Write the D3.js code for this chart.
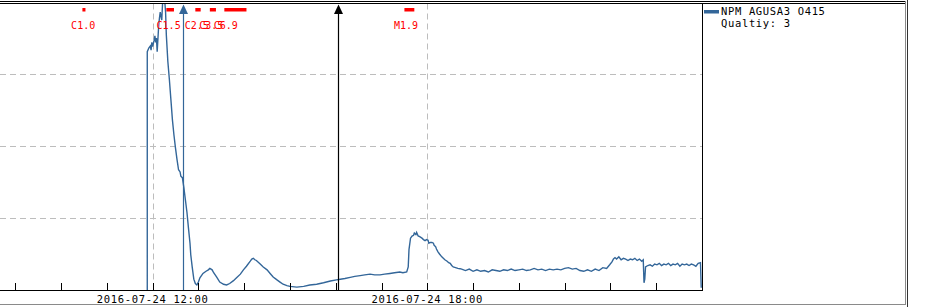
<!DOCTYPE html>
<meta charset="utf-8">
<style>
body { margin:0; background:#fff; }
svg { display:block; }
text { font-family:"DejaVu Sans Mono", monospace; }
</style>
<body>
<div id="chart"></div>
<script src="https://d3js.org/d3.v7.min.js"></script>
<script>
// NPM -> AGUSA3 VLF amplitude, 2016-07-24 (UT)
var day = "2016-07-24 ";

var seriesTimes = [
  "11:53","11:53","11:55","11:57","11:58","11:59","12:00","12:02","12:03","12:04",
  "12:05","12:06","12:08","12:09","12:10","12:12","12:13","12:14","12:16","12:17",
  "12:18","12:20","12:22","12:24","12:26","12:28","12:30","12:32","12:34","12:36",
  "12:37","12:39","12:41","12:43","12:45","12:47","12:49","12:50","12:52","12:54",
  "12:56","12:58","13:00","13:02","13:06","13:10","13:13","13:15","13:18","13:20",
  "13:24","13:28","13:33","13:37","13:41","13:46","13:50","13:55","13:59","14:03",
  "14:08","14:10","14:12","14:14","14:16","14:21","14:25","14:30","14:34","14:38",
  "14:43","14:47","14:51","14:56","15:00","15:09","15:18","15:26","15:35","15:44",
  "15:53","16:01","16:06","16:12","16:19","16:25","16:32","16:38","16:45","16:51",
  "16:58","17:04","17:11","17:17","17:24","17:28","17:33","17:35","17:36","17:38",
  "17:40","17:42","17:43","17:45","17:46","17:48","17:50","17:53","17:55","17:57",
  "17:59","18:01","18:02","18:04","18:06","18:08","18:09","18:11","18:12","18:14",
  "18:16","18:19","18:21","18:23","18:26","18:28","18:30","18:32","18:34","18:37",
  "18:40","18:43","18:45","18:50","18:55","19:00","19:05","19:10","19:15","19:20",
  "19:25","19:30","19:35","19:40","19:45","19:50","19:55","20:00","20:05","20:10",
  "20:15","20:20","20:25","20:30","20:35","20:40","20:45","20:50","20:55","21:00",
  "21:05","21:10","21:15","21:20","21:25","21:30","21:35","21:40","21:45","21:50",
  "21:55","21:59","22:02","22:04","22:06","22:08","22:11","22:14","22:17","22:20",
  "22:23","22:26","22:29","22:32","22:35","22:38","22:41","22:43","22:44","22:45",
  "22:46","22:49","22:52","22:55","22:58","23:01","23:04","23:07","23:10","23:13",
  "23:16","23:19","23:22","23:25","23:28","23:31","23:34","23:37","23:40","23:43",
  "23:46","23:49","23:52","23:55","23:58","23:59"
];
var seriesValues = [
  0, 33.1, 33.6, 33.9, 33.3, 34.4, 33.8, 34.7, 35.3, 34.4,
  35.0, 33.1, 36.8, 37.8, 38.6, 37.5, 39.7, 41.0, 40.0, 38.6,
  35.4, 31.7, 29.2, 26.4, 23.6, 21.5, 19.7, 18.1, 16.7, 16.4,
  15.8, 15.6, 14.2, 12.5, 10.8, 8.6, 6.5, 4.9, 3.1, 1.5,
  0.9, 0.7, 1.1, 1.7, 2.3, 2.6, 2.8, 3.0, 2.8, 2.4,
  1.8, 1.1, 0.8, 0.7, 0.9, 1.3, 1.7, 2.2, 2.8, 3.3,
  4.0, 4.3, 4.4, 4.2, 4.1, 3.6, 3.2, 2.8, 2.3, 1.8,
  1.4, 1.1, 0.8, 0.6, 0.5, 0.4, 0.5, 0.7, 0.8, 1.0,
  1.25, 1.4, 1.5, 1.6, 1.76, 1.9, 2.0, 2.1, 2.2, 2.1,
  2.1, 2.2, 2.3, 2.4, 2.5, 2.4, 2.5, 3.2, 5.6, 7.2,
  7.5, 7.6, 7.9, 7.7, 8.0, 7.5, 7.4, 7.2, 7.0, 6.85,
  7.0, 6.9, 6.5, 6.6, 6.6, 6.5, 6.2, 6.0, 5.7, 5.3,
  5.0, 4.6, 4.4, 4.2, 4.0, 3.8, 3.7, 3.4, 3.2, 3.1,
  3.0, 2.96, 2.9, 2.7, 2.9, 2.6, 2.8, 2.6, 2.7, 2.5,
  2.8, 2.7, 2.6, 2.8, 2.7, 2.9, 2.7, 2.8, 2.9, 2.7,
  2.8, 3.0, 2.8, 2.9, 2.7, 2.9, 2.8, 2.9, 2.8, 3.0,
  3.1, 2.9, 3.0, 2.7, 2.6, 2.8, 2.6, 2.9, 2.7, 3.1,
  3.0, 3.5, 3.9, 4.3, 4.5, 4.3, 4.6, 4.2, 4.4, 4.3,
  4.1, 4.3, 4.2, 4.4, 4.1, 4.3, 4.0, 4.2, 1.0, 1.5,
  3.2, 3.4, 3.5, 3.3, 3.6, 3.5, 3.7, 3.4, 3.6, 3.5,
  3.7, 3.4, 3.6, 3.5, 3.7, 3.3, 3.6, 3.5, 3.6, 3.4,
  3.6, 3.5, 3.3, 3.7, 3.8, 0.3
];

// GOES flares: class, start, end, peak
var flareNames  = ["C1.0", "C1.5", "C2.5", "C3.5", "C6.9", "M1.9"];
var flareStarts = ["10:28", "12:18", "12:56", "13:15", "13:34", "17:30"];
var flareEnds   = ["10:32", "12:28", "13:03", "13:23", "14:03", "17:43"];
var flarePeaks  = ["10:29", "12:21", "12:58", "13:17", "13:36", "17:32"];

// event markers
var eventTimes = ["12:40", "16:03"];

var gridValues = [10, 20, 30];
var tickLabels = ["2016-07-24 12:00", "2016-07-24 18:00"];

var legendName = "NPM AGUSA3 O415";
var legendQuality = "Qualtiy: 3";

var width = 935, height = 307;
var plotRight = 702, plotTop = 3.5, plotBottom = 290;
var lineColor = "#336699";
var eventColors = [lineColor, "#000"];

var parse = d3.timeParse("%Y-%m-%d %H:%M");
function t(s) { return parse(day + s); }

var data = seriesTimes.map(function(s, i) { return {time: t(s), value: seriesValues[i]}; });

var x = d3.scaleTime()
  .domain([t("08:40"), parse("2016-07-25 00:00")])
  .range([0, plotRight]);
var y = d3.scaleLinear()
  .domain([0, 40])
  .range([plotBottom, 2]);

var svg = d3.select("#chart").append("svg").attr("width", width).attr("height", height);

svg.append("clipPath").attr("id", "clip")
  .append("rect").attr("x", 0).attr("y", plotTop).attr("width", plotRight).attr("height", plotBottom - plotTop);

// grid
svg.append("g")
  .selectAll("line")
  .data(gridValues)
  .enter()
  .append("line")
  .attr("x1", 0).attr("x2", plotRight)
  .attr("y1", function(d) { return Math.round(y(d)) + 0.5; })
  .attr("y2", function(d) { return Math.round(y(d)) + 0.5; })
  .attr("stroke", "#bdbdbd").attr("stroke-dasharray", "6,4");

svg.append("g")
  .selectAll("line")
  .data(tickLabels)
  .enter()
  .append("line")
  .attr("x1", function(d) { return Math.round(x(parse(d))) + 0.5; })
  .attr("x2", function(d) { return Math.round(x(parse(d))) + 0.5; })
  .attr("y1", plotTop).attr("y2", plotBottom)
  .attr("stroke", "#bdbdbd").attr("stroke-dasharray", "6,4");

// data line
var line = d3.line()
  .x(function(d) { return x(d.time); })
  .y(function(d) { return y(d.value); });

svg.append("path")
  .datum(data)
  .attr("clip-path", "url(#clip)")
  .attr("d", line)
  .attr("fill", "none")
  .attr("stroke", lineColor)
  .attr("stroke-width", 1.4);

// event markers
var ev = svg.append("g").selectAll("g")
  .data(eventTimes)
  .enter()
  .append("g");
ev.append("line")
  .attr("x1", function(d) { return Math.round(x(t(d))) + 0.5; })
  .attr("x2", function(d) { return Math.round(x(t(d))) + 0.5; })
  .attr("y1", 12).attr("y2", plotBottom)
  .attr("stroke", function(d, i) { return eventColors[i]; })
  .attr("stroke-width", 1.2);
ev.append("path")
  .attr("d", function(d) {
    var cx = Math.round(x(t(d))) + 0.5;
    return "M" + (cx - 4.5) + ",14L" + (cx + 4.5) + ",14L" + cx + ",4.5Z";
  })
  .attr("fill", function(d, i) { return eventColors[i]; });

// flares
svg.append("g")
  .selectAll("rect")
  .data(flareNames)
  .enter()
  .append("rect")
  .attr("x", function(d, i) { return x(t(flareStarts[i])); })
  .attr("width", function(d, i) { return x(t(flareEnds[i])) - x(t(flareStarts[i])); })
  .attr("y", 8).attr("height", 3.5)
  .attr("fill", "#ff0000");

svg.append("g")
  .selectAll("text")
  .data(flareNames)
  .enter()
  .append("text")
  .attr("x", function(d, i) { return x(t(flarePeaks[i])); })
  .attr("y", 29)
  .attr("text-anchor", "middle")
  .attr("font-size", "10px")
  .attr("fill", "#ff0000")
  .text(function(d) { return d; });

// axis ticks
var axis = d3.axisBottom(x)
  .ticks(d3.timeHour.every(1))
  .tickSize(-7)
  .tickSizeOuter(0)
  .tickFormat("");
var ax = svg.append("g")
  .attr("transform", "translate(0," + plotBottom + ")")
  .call(axis);
ax.select(".domain").remove();
ax.selectAll("line").attr("stroke", "#000").attr("shape-rendering", "crispEdges");

svg.append("g")
  .selectAll("text")
  .data(tickLabels)
  .enter()
  .append("text")
  .attr("x", function(d) { return x(parse(d)); })
  .attr("y", 302.5)
  .attr("text-anchor", "middle")
  .attr("font-size", "10.5px")
  .attr("letter-spacing", "0.65px")
  .attr("fill", "#000")
  .text(function(d) { return d; });

// plot box
var box = svg.append("g").attr("stroke", "#000").attr("shape-rendering", "crispEdges");
box.append("line").attr("x1", 0).attr("x2", plotRight + 1).attr("y1", plotBottom + 0.5).attr("y2", plotBottom + 0.5);
box.append("line").attr("x1", plotRight + 0.5).attr("x2", plotRight + 0.5).attr("y1", plotTop).attr("y2", plotBottom + 1);
box.append("line").attr("x1", 0).attr("x2", 905).attr("y1", plotTop).attr("y2", plotTop);
box.append("line").attr("x1", 0).attr("x2", 905).attr("y1", 1.5).attr("y2", 1.5);

// outer frame
svg.append("line").attr("x1", 0).attr("x2", 906).attr("y1", 304.5).attr("y2", 304.5).attr("stroke", "#8a8a8a");
svg.append("line").attr("x1", 905.5).attr("x2", 905.5).attr("y1", 1).attr("y2", 305).attr("stroke", "#8a8a8a");
svg.append("line").attr("x1", 907.5).attr("x2", 907.5).attr("y1", 0).attr("y2", height).attr("stroke", "#333");

// legend
svg.append("rect").attr("x", 704).attr("y", 10).attr("width", 15).attr("height", 3.5).attr("fill", lineColor);
svg.append("text").attr("x", 721).attr("y", 15)
  .attr("font-size", "10.5px").attr("letter-spacing", "0.65px").text(legendName);
svg.append("text").attr("x", 721).attr("y", 26.5)
  .attr("font-size", "10.5px").attr("letter-spacing", "0.65px").text(legendQuality);
</script>
